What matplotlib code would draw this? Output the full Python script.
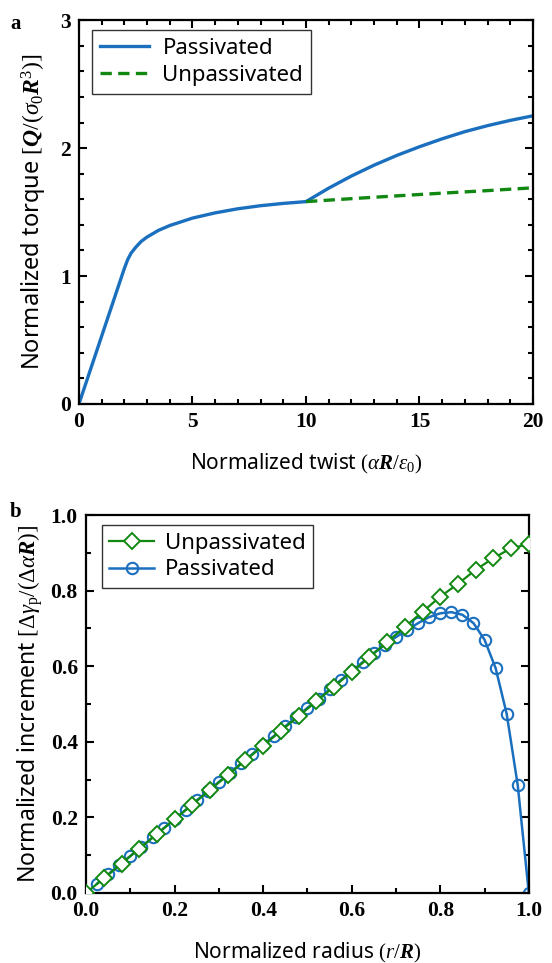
import matplotlib
matplotlib.use("Agg")
import matplotlib.pyplot as plt
from matplotlib.ticker import MultipleLocator

plt.rcParams['mathtext.fontset'] = 'custom'
plt.rcParams['mathtext.rm'] = 'Liberation Serif'
plt.rcParams['mathtext.it'] = 'Liberation Serif:italic'
plt.rcParams['mathtext.bf'] = 'Liberation Serif:bold'
plt.rcParams['mathtext.bfit'] = 'Liberation Serif:italic:bold'

# ---- Panel a data ----
twist_pass = [0, 1, 2.0, 2.15, 2.3, 2.5, 2.75, 3, 3.5, 4, 5, 6, 7, 8, 9, 10,
              11, 12, 13, 14, 15, 16, 17, 18, 19, 20]
torque_pass = [0, 0.53, 1.06, 1.13, 1.18, 1.225, 1.272, 1.305, 1.357, 1.395,
               1.453, 1.494, 1.526, 1.55, 1.568, 1.582,
               1.687, 1.782, 1.867, 1.943, 2.011, 2.073, 2.129, 2.176, 2.217, 2.253]
twist_unpass = [10, 12, 14, 16, 18, 20]
torque_unpass = [1.582, 1.605, 1.627, 1.648, 1.668, 1.69]

# ---- Panel b data ----
r_pass = [0.025, 0.05, 0.075, 0.1, 0.125, 0.15, 0.175, 0.2, 0.225, 0.25,
          0.275, 0.3, 0.325, 0.35, 0.375, 0.4, 0.425, 0.45, 0.475, 0.5,
          0.525, 0.55, 0.575, 0.6, 0.625, 0.65, 0.675, 0.7, 0.725, 0.75,
          0.775, 0.8, 0.825, 0.85, 0.875, 0.9, 0.925, 0.95, 0.975, 1.0]
inc_pass = [0.025, 0.049, 0.074, 0.098, 0.122, 0.147, 0.171, 0.196, 0.220, 0.245,
            0.269, 0.294, 0.318, 0.343, 0.367, 0.392, 0.416, 0.441, 0.465, 0.490,
            0.514, 0.539, 0.563, 0.587, 0.611, 0.635, 0.657, 0.677, 0.696, 0.714,
            0.730, 0.740, 0.743, 0.736, 0.714, 0.670, 0.595, 0.474, 0.285, 0.0]
r_unpass = [0.0, 0.04, 0.08, 0.12, 0.16, 0.2, 0.24, 0.28, 0.32, 0.36, 0.4,
            0.44, 0.48, 0.52, 0.56, 0.6, 0.64, 0.68, 0.72, 0.76, 0.8,
            0.84, 0.88, 0.92, 0.96, 1.0]
inc_unpass = [0.0, 0.039, 0.078, 0.117, 0.156, 0.195, 0.234, 0.273, 0.312, 0.351, 0.390,
              0.429, 0.468, 0.507, 0.546, 0.585, 0.624, 0.664, 0.704, 0.744, 0.784,
              0.818, 0.855, 0.886, 0.912, 0.923]

BLUE = '#1a6fbe'
GREEN = '#118811'

fig = plt.figure(figsize=(5.52, 9.63), dpi=100)

labfam = ['Noto Sans', 'DejaVu Sans']


def style_axes(ax, top=True):
    for s in ax.spines.values():
        s.set_linewidth(1.6)
    ax.tick_params(which='both', direction='in', width=1.5,
                   top=top, right=True, bottom=True, left=True,
                   labeltop=False, labelright=False, pad=6)
    ax.tick_params(which='major', length=6)
    ax.tick_params(which='minor', length=3.5)
    for lab in ax.get_xticklabels() + ax.get_yticklabels():
        lab.set_fontfamily('Liberation Serif')
        lab.set_fontweight('bold')
        lab.set_fontsize(15.5)


# ---- Panel a ----
ax1 = fig.add_axes([0.143, 0.5805, 0.8226, 0.3985])
ax1.plot(twist_pass, torque_pass, color=BLUE, lw=2.4, label='Passivated',
         solid_joinstyle='round')
ax1.plot(twist_unpass, torque_unpass, color=GREEN, lw=2.4, ls=(0, (3.4, 1.9)),
         label='Unpassivated')
ax1.set_xlim(0, 20)
ax1.set_ylim(0, 3)
ax1.xaxis.set_major_locator(MultipleLocator(5))
ax1.xaxis.set_minor_locator(MultipleLocator(1))
ax1.yaxis.set_major_locator(MultipleLocator(1))
ax1.yaxis.set_minor_locator(MultipleLocator(0.2))
ax1.set_xticks([0, 5, 10, 15, 20])
ax1.set_xticklabels(['0', '5', '10', '15', '20'])
ax1.set_yticks([0, 1, 2, 3])
ax1.set_yticklabels(['0', '1', '2', '3'])
style_axes(ax1, top=True)
ax1.set_xlabel(r'Normalized twist $(\alpha\mathbfit{R}/\varepsilon_0)$',
               family=labfam, fontsize=15, labelpad=14)
ax1.set_ylabel(r'Normalized torque $[\mathbfit{Q}/(\sigma_0\mathbfit{R}^3)]$',
               family=labfam, fontsize=17, labelpad=8)
leg1 = ax1.legend(loc='upper left', bbox_to_anchor=(0.02, 0.985), frameon=True,
                  fancybox=False, edgecolor='#333333', framealpha=1,
                  prop={'family': labfam, 'size': 16}, handlelength=2.2,
                  borderpad=0.35, labelspacing=0.25, handletextpad=0.6,
                  borderaxespad=0.2)
leg1.get_frame().set_linewidth(1.0)
fig.text(0.018, 0.985, 'a', family='Liberation Serif', weight='bold', fontsize=15,
         va='top')

# ---- Panel b ----
ax2 = fig.add_axes([0.156, 0.0727, 0.802, 0.3925])
ax2.plot(r_unpass, inc_unpass, color=GREEN, lw=1.6, marker='D', ms=8.3,
         mfc='white', mec=GREEN, mew=1.4, label='Unpassivated', zorder=3)
ax2.plot(r_pass, inc_pass, color=BLUE, lw=1.8, marker='o', ms=8.2,
         mfc='none', mec=BLUE, mew=1.5, label='Passivated', zorder=2)
ax2.set_xlim(0, 1)
ax2.set_ylim(0, 1)
ax2.xaxis.set_major_locator(MultipleLocator(0.2))
ax2.xaxis.set_minor_locator(MultipleLocator(0.1))
ax2.yaxis.set_major_locator(MultipleLocator(0.2))
ax2.yaxis.set_minor_locator(MultipleLocator(0.1))
ax2.set_xticks([0, 0.2, 0.4, 0.6, 0.8, 1.0])
ax2.set_xticklabels(['0.0', '0.2', '0.4', '0.6', '0.8', '1.0'])
ax2.set_yticks([0, 0.2, 0.4, 0.6, 0.8, 1.0])
ax2.set_yticklabels(['0.0', '0.2', '0.4', '0.6', '0.8', '1.0'])
style_axes(ax2, top=False)
ax2.set_xlabel(r'Normalized radius $(\mathit{r}/\mathbfit{R})$',
               family=labfam, fontsize=15, labelpad=14)
ax2.set_ylabel(r'Normalized increment $[\Delta\gamma_\mathrm{p}/(\Delta\alpha\mathbfit{R})]$',
               family=labfam, fontsize=16.5, labelpad=4)
leg2 = ax2.legend(loc='upper left', bbox_to_anchor=(0.025, 0.985), frameon=True,
                  fancybox=False, edgecolor='#333333', framealpha=1,
                  prop={'family': labfam, 'size': 16}, handlelength=2.0,
                  borderpad=0.35, labelspacing=0.25, handletextpad=0.5,
                  borderaxespad=0.2)
leg2.get_frame().set_linewidth(1.0)
fig.text(0.018, 0.479, 'b', family='Liberation Serif', weight='bold', fontsize=15,
         va='top')

fig.savefig('out.png', dpi=100)
